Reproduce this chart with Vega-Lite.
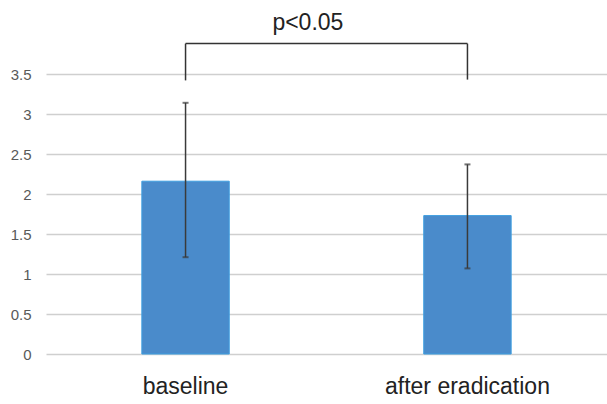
{
  "$schema": "https://vega.github.io/schema/vega-lite/v6.json",
  "width": 561,
  "height": 352,
  "autosize": {"type": "none"},
  "padding": {"left": 46, "top": 2, "right": 0, "bottom": 50},
  "background": "white",
  "config": {
    "view": {"stroke": null},
    "font": "Liberation Sans"
  },
  "datasets": {
    "bars": [
      {"group": "baseline", "mean": 2.16, "low": 1.21, "high": 3.14},
      {"group": "after eradication", "mean": 1.73, "low": 1.07, "high": 2.37}
    ],
    "legs": [
      {"group": "baseline", "bottom": 3.42, "top": 3.88},
      {"group": "after eradication", "bottom": 3.43, "top": 3.88}
    ],
    "bracket": [
      {"group": "baseline", "to": "after eradication", "y": 3.88, "label": "p<0.05", "ly": 4.14}
    ]
  },
  "layer": [
    {
      "data": {"name": "bars"},
      "mark": {"type": "bar", "color": "#4a8bcb", "stroke": "#3d9ee0", "strokeWidth": 1},
      "encoding": {
        "x": {
          "field": "group",
          "type": "nominal",
          "sort": ["baseline", "after eradication"],
          "scale": {"domain": ["baseline", "after eradication"], "paddingInner": 0.69, "paddingOuter": 0.34},
          "axis": {
            "title": null,
            "labelAngle": 0,
            "domain": false,
            "ticks": false,
            "labelFontSize": 23,
            "labelColor": "#222222",
            "labelPadding": 21
          }
        },
        "y": {
          "field": "mean",
          "type": "quantitative",
          "scale": {"domain": [0, 4.4], "nice": false},
          "axis": {
            "title": null,
            "values": [0, 0.5, 1, 1.5, 2, 2.5, 3, 3.5],
            "format": "~g",
            "domain": false,
            "ticks": false,
            "gridColor": "#cfcfcf",
            "gridWidth": 1.5,
            "labelFontSize": 15,
            "labelColor": "#595959",
            "labelPadding": 15
          }
        }
      }
    },
    {
      "data": {"name": "bars"},
      "mark": {"type": "rule", "color": "#3a3a3a", "strokeWidth": 1.5},
      "encoding": {
        "x": {"field": "group", "type": "nominal"},
        "y": {"field": "low", "type": "quantitative"},
        "y2": {"field": "high"}
      }
    },
    {
      "data": {"name": "bars"},
      "mark": {"type": "tick", "color": "#3a3a3a", "size": 6, "thickness": 2},
      "encoding": {
        "x": {"field": "group", "type": "nominal"},
        "y": {"field": "low", "type": "quantitative"}
      }
    },
    {
      "data": {"name": "bars"},
      "mark": {"type": "tick", "color": "#3a3a3a", "size": 6, "thickness": 2},
      "encoding": {
        "x": {"field": "group", "type": "nominal"},
        "y": {"field": "high", "type": "quantitative"}
      }
    },
    {
      "data": {"name": "legs"},
      "mark": {"type": "rule", "color": "#333333", "strokeWidth": 1.5},
      "encoding": {
        "x": {"field": "group", "type": "nominal"},
        "y": {"field": "bottom", "type": "quantitative"},
        "y2": {"field": "top"}
      }
    },
    {
      "data": {"name": "bracket"},
      "mark": {"type": "rule", "color": "#333333", "strokeWidth": 1.5},
      "encoding": {
        "x": {"field": "group", "type": "nominal"},
        "x2": {"field": "to"},
        "y": {"field": "y", "type": "quantitative"}
      }
    },
    {
      "data": {"name": "bracket"},
      "mark": {"type": "text", "fontSize": 23, "color": "#222222", "baseline": "middle"},
      "encoding": {
        "x": {"field": "group", "type": "nominal", "bandPosition": 1.9},
        "text": {"field": "label"},
        "y": {"field": "ly", "type": "quantitative"}
      }
    }
  ]
}
